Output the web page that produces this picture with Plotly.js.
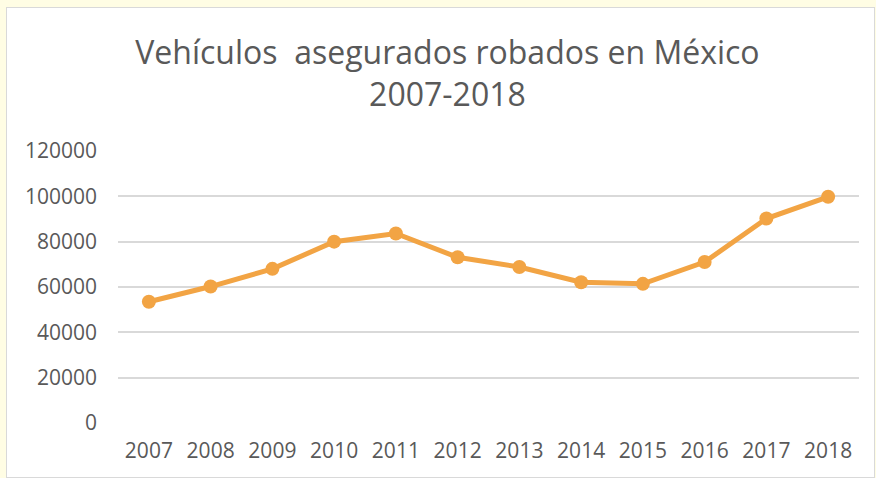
<!DOCTYPE html>
<html>
<head>
<meta charset="utf-8">
<script src="https://cdn.plot.ly/plotly-3.0.1.min.js"></script>
<style>
html,body{margin:0;padding:0;background:#FFFDE4;width:876px;height:478px;overflow:hidden;}
#chart{position:absolute;left:6px;top:7px;width:869px;height:471px;box-sizing:border-box;border:1px solid #D9D9D9;background:#fff;}
</style>
</head>
<body>
<div id="chart"></div>
<script>
const years = ["2007","2008","2009","2010","2011","2012","2013","2014","2015","2016","2017","2018"];
const robados = [53500, 60200, 68000, 80000, 83600, 73100, 68800, 62100, 61400, 71000, 90200, 99800];
const yTicks = [0, 20000, 40000, 60000, 80000, 100000, 120000];

const trace = {
  x: years,
  y: robados,
  type: 'scatter',
  mode: 'lines+markers',
  line: {color: '#F2A444', width: 5},
  marker: {color: '#F2A444', size: 14},
  hoverinfo: 'none'
};

const layout = {
  width: 867, height: 469,
  margin: {l: 111, r: 15, t: 143, b: 54},
  paper_bgcolor: '#ffffff',
  plot_bgcolor: '#ffffff',
  showlegend: false,
  font: {family: '"Open Sans", sans-serif', color: '#595959'},
  title: {
    text: 'Vehículos\u00A0 asegurados robados en México<br>2007-2018',
    font: {size: 32, color: '#595959', family: '"Open Sans", sans-serif'},
    x: 0.508, xanchor: 'center', y: 0.88, yanchor: 'top'
  },
  xaxis: {
    type: 'category',
    range: [-0.5, 11.5],
    showgrid: false, zeroline: false, showline: false,
    ticks: '',
    ticklabelstandoff: 13,
    tickfont: {size: 21, color: '#595959'}
  },
  yaxis: {
    range: [0, 120000],
    tickvals: yTicks,
    ticktext: yTicks.map(String),
    showgrid: true, gridcolor: '#D9D9D9', gridwidth: 2,
    zeroline: false, showline: false,
    ticks: '',
    ticklabelstandoff: 20,
    tickfont: {size: 21, color: '#595959'}
  }
};

Plotly.newPlot('chart', [trace], layout, {staticPlot: true, displayModeBar: false});
</script>
</body>
</html>
